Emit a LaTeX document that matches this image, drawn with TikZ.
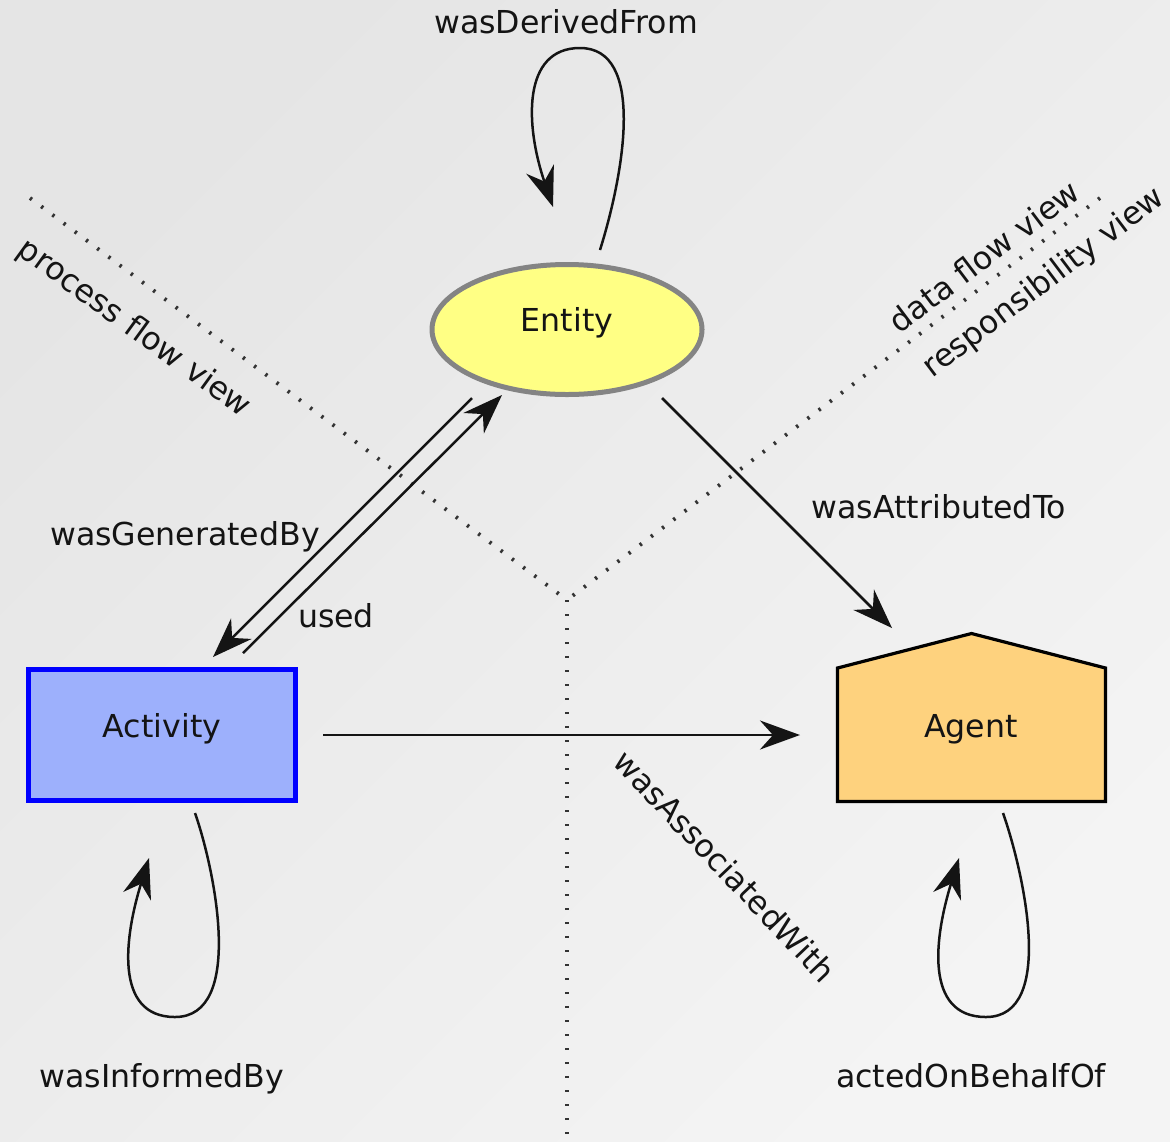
\documentclass[tikz,border=0pt]{standalone}
\usepackage{fontspec}
\setmainfont{DejaVu Sans}
\usetikzlibrary{arrows.meta,shapes.geometric}
\definecolor{bgA}{HTML}{E5E5E5}
\definecolor{bgB}{HTML}{F4F4F4}
\definecolor{entfill}{HTML}{FFFF84}
\definecolor{entdraw}{HTML}{848484}
\definecolor{actfill}{HTML}{9DB0FC}
\definecolor{actdraw}{HTML}{0000FF}
\definecolor{agfill}{HTML}{FED27E}
\begin{document}
\begin{tikzpicture}[x=0.5pt,y=-0.5pt,
  txt/.style={font=\fontsize{15.8}{18}\selectfont, inner sep=0pt, text=black!92},
  lbl/.style={txt, anchor=base},
  arr/.style={line width=1.25pt, black!92, -{Stealth[length=20pt,width=14.5pt,inset=6.5pt]}},
  viewline/.style={line width=1.9pt, black!80, dash pattern=on 1.2pt off 5.8pt},
]
\useasboundingbox (0,0) rectangle (1170,1141);
\clip (0,0) rectangle (1170,1141);
\shade[top color=bgA, bottom color=bgB, shading angle=45] (0,0) rectangle (1170,1141);

% view separators
\coordinate (mid) at (567,600);
\coordinate (vl) at (30,198);
\coordinate (vr) at (1100,198);
\coordinate (vb) at (567,1141);
\draw[viewline] (vl) -- (mid);
\draw[viewline] (vr) -- (mid);
\draw[viewline] (mid) -- (vb);

% nodes
\node[ellipse, draw=entdraw, fill=entfill, line width=2.5pt,
      minimum width=135pt, minimum height=65pt, inner sep=0pt] (entity) at (567,329.5) {};
\node[lbl] (entityl) at (567,331) {Entity};

\node[rectangle, draw=actdraw, fill=actfill, line width=2.4pt,
      minimum width=133.5pt, minimum height=65.5pt, inner sep=0pt] (activity) at (162,735) {};
\node[lbl] (activityl) at (162,737) {Activity};

\draw[fill=agfill, line width=1.6pt, line join=miter]
  (837.5,801.5) -- (837.5,668) -- (971.5,633.5) -- (1105.5,668) -- (1105.5,801.5) -- cycle;
\node[lbl] (agent) at (971,737) {Agent};

% connector end points
\coordinate (genS) at (472,398);
\coordinate (genE) at (213,657);
\coordinate (useS) at (243,653);
\coordinate (useE) at (502,395);
\coordinate (attS) at (662,398);
\coordinate (attE) at (892,628);
\coordinate (assS) at (323,735);
\coordinate (assE) at (800,735);
\coordinate (derS) at (600,250);
\coordinate (derE) at (553,207);
\coordinate (infS) at (195,813);
\coordinate (infE) at (149,858);
\coordinate (actS) at (1003,813);
\coordinate (actE) at (959,858);

\draw[arr] (genS) -- (genE);
\draw[arr] (useS) -- (useE);
\draw[arr] (attS) -- (attE);
\draw[arr] (assS) -- (assE);
\draw[arr] (derS) .. controls (625,170) and (645,48) .. (580,48)
               .. controls (522,48) and (525,125) .. (derE);
\draw[arr] (infS) .. controls (215,870) and (245,1017) .. (175,1017)
               .. controls (113,1017) and (125,935) .. (infE);
\draw[arr] (actS) .. controls (1023,870) and (1057,1017) .. (986,1017)
               .. controls (923,1017) and (935,935) .. (actE);

% labels
\node[lbl] (lder) at (566,33) {wasDerivedFrom};
\node[lbl] (latt) at (939,518) {wasAttributedTo};
\node[lbl] (lgen) at (185,545) {wasGeneratedBy};
\node[lbl] (luse) at (336,627) {used};
\node[lbl] (linf) at (162,1087) {wasInformedBy};
\node[lbl] (lact) at (971,1087) {actedOnBehalfOf};
\node[txt, rotate=-46.5] (lass) at (725,866) {wasAssociatedWith};
\node[txt, rotate=-36] (lproc) at (134,329) {process flow view};
\node[txt, rotate=37] (ldata) at (984,256) {data flow view};
\node[txt, rotate=37] (lresp) at (1044,283) {responsibility view};
\end{tikzpicture}
\end{document}
